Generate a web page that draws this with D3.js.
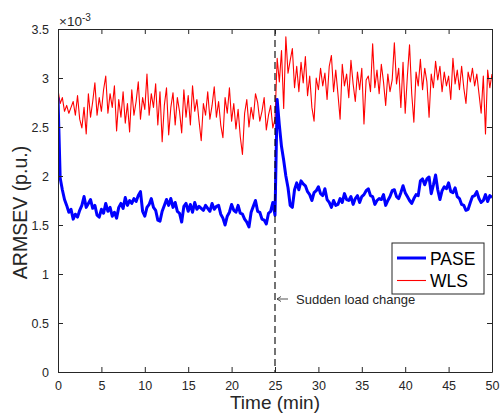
<!DOCTYPE html>
<html>
<head>
<meta charset="utf-8">
<script src="https://cdn.jsdelivr.net/npm/d3@7"></script>
<style>
  html, body { margin: 0; padding: 0; background: #fff; }
  svg { display: block; }
  text { font-family: "Liberation Sans", Arial, Helvetica, sans-serif; fill: #262626; }
</style>
</head>
<body>
<svg id="chart" width="500" height="413"></svg>
<script>
// ---------- DATA (values in units of 1e-3 p.u.) ----------
const xTicks = [0, 5, 10, 15, 20, 25, 30, 35, 40, 45, 50];
const yTicks = [0, 0.5, 1, 1.5, 2, 2.5, 3, 3.5];
const yTickLabels = ["0", "0.5", "1", "1.5", "2", "2.5", "3", "3.5"];
const seriesNames = ["PASE", "WLS"];
const loadChangeTime = 25;
const annotationText = "Sudden load change";
const xLabel = "Time (min)";
const yLabel = "ARMSEV (p.u.)";

// WLS, t = 0 .. 25 min
const wlsBefore = [
  2.88, 2.74, 2.80, 2.66, 2.72, 2.64, 2.70, 2.76, 2.62, 2.82,
  2.58, 2.49, 2.70, 2.43, 2.84, 2.60, 2.76, 2.95, 2.62, 2.80,
  2.66, 2.88, 3.02, 2.64, 2.84, 2.70, 2.92, 2.46, 2.78, 2.60,
  2.86, 2.54, 2.74, 2.45, 2.88, 2.62, 2.76, 2.96, 2.58, 2.80,
  2.68, 3.04, 2.62, 2.84, 2.70, 2.94, 2.52, 2.86, 2.35, 2.72,
  2.90, 2.42, 2.70, 2.85, 2.52, 2.80, 2.66, 2.44, 2.88, 2.60,
  2.82, 2.52, 2.92, 2.66, 2.78, 2.56, 2.36, 2.74, 2.62, 2.86,
  2.58, 2.72, 2.91, 2.60, 2.76, 2.52, 2.39, 2.80, 2.64, 2.90,
  2.56, 2.74, 2.48, 2.68, 2.40, 2.22, 2.64, 2.78, 2.50, 2.70,
  2.58, 2.84, 2.75, 2.56, 2.66, 2.80, 2.47, 2.62, 2.72, 2.49,
  2.58
];
// WLS, t = 25.25 .. 50 min
const wlsAfter = [
  3.20, 2.96, 3.28, 2.69, 3.42, 3.05, 3.18, 3.30, 2.90, 3.12,
  2.86, 3.16, 2.95, 3.22, 2.82, 3.02, 2.70, 2.56, 3.00, 2.88,
  3.10, 2.92, 3.05, 2.78, 3.12, 3.23, 2.86, 3.08, 2.84, 2.58,
  3.14, 2.92, 3.04, 2.80, 3.18, 2.94, 2.76, 3.06, 2.88, 3.10,
  2.53, 2.98, 3.02, 2.86, 3.35, 2.90, 3.08, 2.84, 3.14, 2.96,
  2.72, 3.04, 2.86, 2.98, 3.36, 2.94, 3.10, 2.70, 3.16, 2.64,
  3.02, 3.34, 2.84, 2.55, 3.06, 2.92, 3.19, 2.88, 3.10, 2.96,
  2.60, 3.04, 2.90, 3.17, 2.98, 3.12, 2.86, 3.06, 2.92, 3.02,
  2.78, 3.20, 2.94, 3.08, 2.88, 3.12, 2.90, 2.74, 3.06, 2.96,
  3.10, 2.92, 3.04, 2.84, 2.64, 3.02, 2.43, 3.08, 2.90, 3.04
];
// PASE, t = 0 .. 25 min
const paseBefore = [
  2.80, 1.98, 1.86, 1.76, 1.70, 1.63, 1.66, 1.56, 1.61, 1.58,
  1.65, 1.70, 1.79, 1.68, 1.72, 1.76, 1.67, 1.70, 1.60, 1.58,
  1.66, 1.62, 1.72, 1.64, 1.68, 1.59, 1.63, 1.57, 1.68, 1.72,
  1.67, 1.78, 1.70, 1.75, 1.72, 1.77, 1.74, 1.80, 1.84, 1.64,
  1.59, 1.68, 1.71, 1.77, 1.68, 1.65, 1.55, 1.54, 1.64, 1.70,
  1.76, 1.70, 1.77, 1.68, 1.73, 1.64, 1.62, 1.53, 1.69, 1.72,
  1.64, 1.71, 1.63, 1.73, 1.66, 1.69, 1.67, 1.65, 1.70, 1.67,
  1.64, 1.72, 1.66, 1.69, 1.70, 1.61, 1.57, 1.50, 1.59, 1.63,
  1.71, 1.65, 1.63, 1.70, 1.62, 1.61, 1.56, 1.53, 1.48, 1.63,
  1.69, 1.75, 1.64, 1.63, 1.56, 1.55, 1.51, 1.62, 1.64, 1.73,
  1.60
];
// PASE, t = 25.25 .. 50 min
const paseAfter = [
  2.78, 2.52, 2.30, 2.16, 2.00, 1.88, 1.70, 1.68, 1.86, 1.93,
  1.86, 1.95, 1.92, 1.90, 1.84, 1.81, 1.75, 1.83, 1.85, 1.89,
  1.82, 1.80, 1.87, 1.76, 1.73, 1.68, 1.75, 1.70, 1.71, 1.77,
  1.73, 1.82, 1.76, 1.75, 1.79, 1.71, 1.77, 1.80, 1.73, 1.79,
  1.81, 1.85, 1.87, 1.80, 1.79, 1.71, 1.75, 1.77, 1.76, 1.81,
  1.70, 1.75, 1.79, 1.85, 1.86, 1.79, 1.77, 1.83, 1.90, 1.83,
  1.79, 1.75, 1.72, 1.77, 1.81, 1.80, 1.95, 1.97, 1.91, 1.97,
  1.99, 1.82, 1.91, 2.01, 1.86, 1.76, 1.85, 1.89, 1.87, 1.93,
  1.84, 1.83, 1.88, 1.79, 1.77, 1.71, 1.70, 1.65, 1.66, 1.73,
  1.79, 1.80, 1.84, 1.77, 1.73, 1.75, 1.81, 1.74, 1.80, 1.78
];

// ---------- BUILD POINTS (regular sampling on each side of the load change) ----------
function toPoints(before, after) {
  const pts = before.map((v, i) => ({ t: loadChangeTime * i / (before.length - 1), v }));
  after.forEach((v, i) => pts.push({ t: loadChangeTime + (50 - loadChangeTime) * (i + 1) / after.length, v }));
  return pts;
}
const pase = toPoints(paseBefore, paseAfter);
const wls = toPoints(wlsBefore, wlsAfter);

// ---------- LAYOUT ----------
const svg = d3.select("#chart");
const L = 58, R = 492, T = 29, B = 372;
const x = d3.scaleLinear().domain([0, 50]).range([L, R]);
const y = d3.scaleLinear().domain([0, 3.5]).range([B, T]);
const axisColor = "#262626";
const tickLen = 5;

svg.append("defs").append("clipPath").attr("id", "plotclip")
  .append("rect").attr("x", L).attr("y", T).attr("width", R - L).attr("height", B - T);

const line = d3.line().x(d => x(d.t)).y(d => y(d.v));
const plot = svg.append("g").attr("clip-path", "url(#plotclip)");

plot.append("path").datum(wls)
  .attr("d", line).attr("fill", "none")
  .attr("stroke", "#ff0000").attr("stroke-width", 1.1).attr("stroke-linejoin", "round");

plot.append("path").datum(pase)
  .attr("d", line).attr("fill", "none")
  .attr("stroke", "#0000ff").attr("stroke-width", 3).attr("stroke-linejoin", "round");

plot.append("line")
  .attr("x1", x(loadChangeTime)).attr("x2", x(loadChangeTime))
  .attr("y1", y(3.5)).attr("y2", y(0))
  .attr("stroke", "#000").attr("stroke-width", 1.1).attr("stroke-dasharray", "7,4");

// ---------- AXES ----------
const axB = d3.axisBottom(x).tickValues(xTicks).tickSizeInner(-tickLen).tickSizeOuter(0).tickPadding(9).tickFormat(d3.format("d"));
const axT = d3.axisTop(x).tickValues(xTicks).tickSizeInner(-tickLen).tickSizeOuter(0).tickFormat("");
const axL = d3.axisLeft(y).tickValues(yTicks).tickSizeInner(-tickLen).tickSizeOuter(0).tickPadding(9).tickFormat((d, i) => yTickLabels[i]);
const axR = d3.axisRight(y).tickValues(yTicks).tickSizeInner(-tickLen).tickSizeOuter(0).tickFormat("");

function styleAxis(g) {
  g.select(".domain").attr("stroke", axisColor).attr("stroke-width", 1);
  g.selectAll(".tick line").attr("stroke", axisColor).attr("stroke-width", 1);
  g.selectAll(".tick text").attr("fill", axisColor).style("font-size", "12.5px")
    .style("font-family", '"Liberation Sans", Arial, sans-serif');
}
svg.append("g").attr("transform", `translate(0,${B})`).call(axB).call(styleAxis);
svg.append("g").attr("transform", `translate(0,${T})`).call(axT).call(styleAxis);
svg.append("g").attr("transform", `translate(${L},0)`).call(axL).call(styleAxis);
svg.append("g").attr("transform", `translate(${R},0)`).call(axR).call(styleAxis);

// exponent label
const expT = svg.append("text").attr("x", L + 1).attr("y", 26).style("font-size", "13.5px");
expT.append("tspan").text("×10");
expT.append("tspan").attr("dy", -5).style("font-size", "10px").text("-3");

// axis labels
svg.append("text").attr("x", (L + R) / 2).attr("y", 409).attr("text-anchor", "middle")
  .style("font-size", "19px").text(xLabel);
svg.append("text").attr("transform", `translate(27,${(T + B) / 2 + 12}) rotate(-90)`)
  .attr("text-anchor", "middle").style("font-size", "19.5px").text(yLabel);

// annotation with arrow
const ay = 299;
const ax0 = x(loadChangeTime) + 2, ax1 = x(loadChangeTime) + 13;
svg.append("line").attr("x1", ax0).attr("x2", ax1).attr("y1", ay).attr("y2", ay)
  .attr("stroke", axisColor).attr("stroke-width", 0.8);
svg.append("path")
  .attr("d", `M${ax0},${ay} L${ax0 + 4},${ay - 2.5} M${ax0},${ay} L${ax0 + 4},${ay + 2.5}`)
  .attr("stroke", axisColor).attr("stroke-width", 0.8).attr("fill", "none");
svg.append("text").attr("x", ax1 + 8).attr("y", ay + 4.5).style("font-size", "13px").text(annotationText);

// legend
const lg = svg.append("g");
lg.append("rect").attr("x", 392).attr("y", 243).attr("width", 92).attr("height", 51)
  .attr("fill", "#fff").attr("stroke", axisColor).attr("stroke-width", 1);
const legendColors = ["#0000ff", "#ff0000"];
const legendWidths = [3, 1.1];
seriesNames.forEach((name, i) => {
  const ly = 258 + i * 22.5;
  lg.append("line").attr("x1", 397).attr("x2", 426).attr("y1", ly).attr("y2", ly)
    .attr("stroke", legendColors[i]).attr("stroke-width", legendWidths[i]);
  lg.append("text").attr("x", 430).attr("y", ly + 6.5).style("font-size", "17.5px").style("fill", "#000").text(name);
});
</script>
</body>
</html>
